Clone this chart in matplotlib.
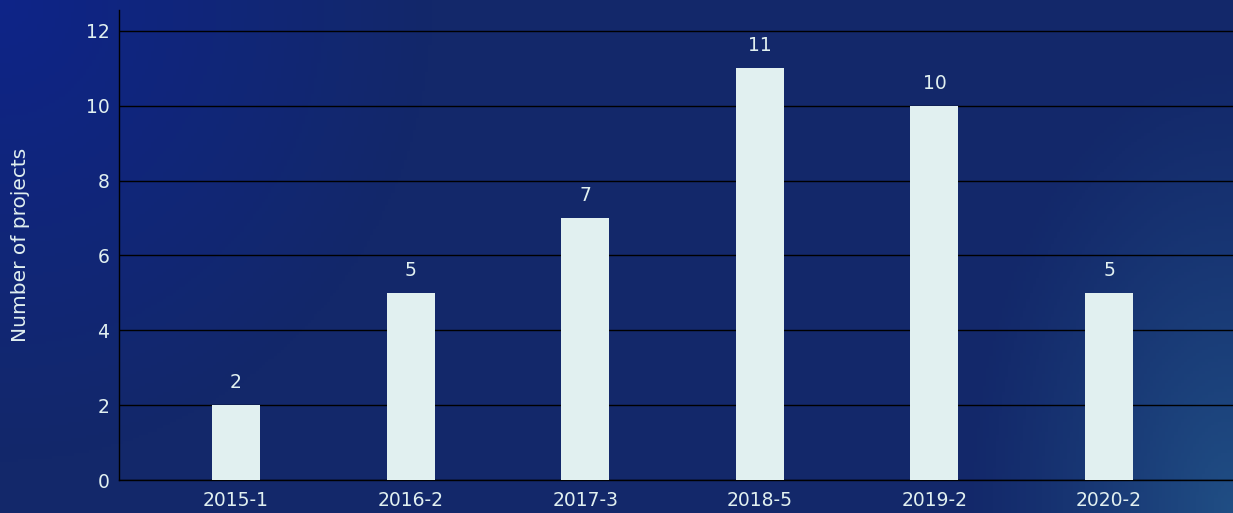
import matplotlib.pyplot as plt
import numpy as np

categories = ['2015-1', '2016-2', '2017-3', '2018-5', '2019-2', '2020-2']
projects = [2, 5, 7, 11, 10, 5]
yticks = [0, 2, 4, 6, 8, 10, 12]

text_color = '#e1f0f0'
bar_color = '#e1f0f0'

fig = plt.figure(figsize=(12.33, 5.13), dpi=100)

# background: flat navy, brighter blue top-left, lighter teal-blue bottom-right
bg = fig.add_axes([0, 0, 1, 1], zorder=-1)
xx, yy = np.meshgrid(np.linspace(0, 1, 400), np.linspace(0, 1, 170))  # yy=0 at top
base = np.array([0x13, 0x28, 0x6a]) / 255
tl = np.array([0x0e, 0x24, 0x88]) / 255
br = np.array([0x20, 0x4e, 0x84]) / 255
d_tl = np.sqrt((xx / 0.35) ** 2 + (yy / 0.9) ** 2)
w_tl = np.clip(1 - d_tl, 0, 1)[..., None]
d_br = np.sqrt(((1 - xx) / 0.22) ** 2 + ((1 - yy) / 0.9) ** 2)
w_br = np.clip(1 - d_br, 0, 1)[..., None] ** 1.2
img = base + (tl - base) * w_tl + (br - base) * w_br
bg.imshow(np.clip(img, 0, 1), aspect='auto', extent=[0, 1, 0, 1], origin='upper')
bg.axis('off')

ax = fig.add_axes([119 / 1233, 33 / 513, 1 - 119 / 1233, (480 - 10) / 513])
ax.patch.set_alpha(0)

x = np.arange(len(categories))
bars = ax.bar(x, projects, width=0.275, color=bar_color, zorder=3)

for b, v in zip(bars, projects):
    ax.text(b.get_x() + b.get_width() / 2, v + 0.35, str(v), ha='center', va='bottom',
            color=text_color, fontsize=13.5)

ax.set_xlim(-0.67, 5.71)
ax.set_ylim(0, 12.56)
ax.set_xticks(x)
ax.set_xticklabels(categories)
ax.set_yticks(yticks)
ax.tick_params(length=0, colors=text_color, labelsize=13.5)
ax.tick_params(axis='y', pad=7)
ax.tick_params(axis='x', pad=8)
ax.yaxis.grid(True, color='black', linewidth=1, zorder=0)
ax.set_axisbelow(True)
for s in ['top', 'right']:
    ax.spines[s].set_visible(False)
for s in ['left', 'bottom']:
    ax.spines[s].set_color('black')
    ax.spines[s].set_linewidth(1)

ax.set_ylabel('Number of projects', color=text_color, fontsize=14.5, labelpad=40)

fig.savefig('out.png', dpi=100)
